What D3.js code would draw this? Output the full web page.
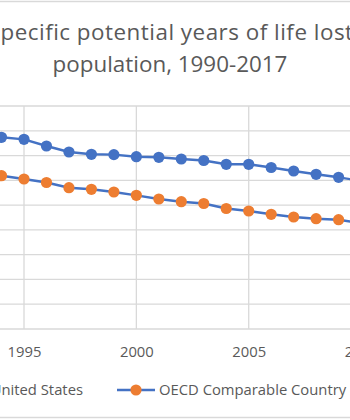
<!DOCTYPE html>
<html>
<head>
<meta charset="utf-8">
<script src="https://cdn.jsdelivr.net/npm/d3@7"></script>
<style>
  html, body { margin: 0; padding: 0; background: #fff; overflow: hidden; }
  svg { display: block; }
  text { font-family: "Open Sans", sans-serif; fill: #595959; }
</style>
</head>
<body>
<svg id="chart" width="350" height="420"></svg>
<script>
// ---- data (values in potential years of life lost per 100,000) ----
const years = [1994, 1995, 1996, 1997, 1998, 1999, 2000, 2001, 2002, 2003, 2004, 2005, 2006, 2007, 2008, 2009, 2010];
const usValues = [7736, 7655, 7385, 7143, 7050, 7038, 6953, 6929, 6860, 6800, 6647, 6647, 6517, 6376, 6243, 6122, 5977];
const oecdValues = [6186, 6053, 5912, 5702, 5638, 5529, 5395, 5246, 5137, 5065, 4863, 4763, 4629, 4520, 4451, 4411, 4274];
const xTickYears = [1990, 1995, 2000, 2005, 2010, 2015];
const yTickValues = [0, 1000, 2000, 3000, 4000, 5000, 6000, 7000, 8000, 9000];
const seriesNames = ["United States", "OECD Comparable Country"];
const titleLine1 = "Age-specific potential years of life lost per 100,000";
const titleLine1Hidden = "Age-s";
const titleLine2 = "population, 1990-2017";

const svg = d3.select("#chart");
const gridColor = "#D9D9D9";
const lineBlue = "#4472C4";
const markerOrange = "#ED7D31";

const x = d3.scaleLinear().domain([1990, 2017]).range([-88.35, 518.35]);
const y = d3.scaleLinear().domain([0, 9000]).range([329, 106]);

// chart border (top and bottom visible)
svg.append("rect")
  .attr("x", -100).attr("y", 1.5).attr("width", 560).attr("height", 416)
  .attr("fill", "none").attr("stroke", gridColor).attr("stroke-width", 1.5);

// horizontal gridlines
svg.append("g").selectAll("line").data(yTickValues).join("line")
  .attr("x1", x(1990)).attr("x2", x(2017))
  .attr("y1", d => y(d)).attr("y2", d => y(d))
  .attr("stroke", gridColor).attr("stroke-width", 1.3);

// vertical gridlines
svg.append("g").selectAll("line").data(xTickYears).join("line")
  .attr("x1", d => x(d)).attr("x2", d => x(d))
  .attr("y1", y(9000)).attr("y2", y(0))
  .attr("stroke", gridColor).attr("stroke-width", 1.3);

// x axis labels
const xAxis = d3.axisBottom(x).tickValues(xTickYears).tickFormat(d3.format("d")).tickSize(0).tickPadding(0);
const gx = svg.append("g").attr("transform", `translate(0,${y(0)})`).call(xAxis);
gx.select(".domain").remove();
gx.selectAll("text")
  .attr("y", 28).attr("dy", 0)
  .style("font-size", "14.8px").style("font-family", "'Open Sans', sans-serif").attr("fill", "#595959");

// lines
const line = d3.line().x((d, i) => x(years[i])).y(d => y(d));
[usValues, oecdValues].forEach(vals => {
  svg.append("path").datum(vals)
    .attr("d", line).attr("fill", "none")
    .attr("stroke", lineBlue).attr("stroke-width", 2.4).attr("stroke-linejoin", "round");
});

// markers
svg.append("g").selectAll("circle").data(usValues).join("circle")
  .attr("cx", (d, i) => x(years[i])).attr("cy", d => y(d)).attr("r", 5.6)
  .attr("fill", lineBlue);
svg.append("g").selectAll("circle").data(oecdValues).join("circle")
  .attr("cx", (d, i) => x(years[i])).attr("cy", d => y(d)).attr("r", 5.6)
  .attr("fill", markerOrange);

// title
const tmp = svg.append("text").style("font-size", "22.4px").style("letter-spacing", "0.5px").text(titleLine1Hidden);
const hiddenW = tmp.node().getComputedTextLength();
tmp.remove();
svg.append("text").attr("x", 0.5 - hiddenW).attr("y", 39.5)
  .style("font-size", "22.4px").style("letter-spacing", "0.5px").text(titleLine1);
svg.append("text").attr("x", 170).attr("y", 72).attr("text-anchor", "middle")
  .style("font-size", "22.4px").text(titleLine2);

// legend
const legY = 390;
const leg = svg.append("g");
// second item
const l2 = leg.append("g");
l2.append("line").attr("x1", 117).attr("x2", 155).attr("y1", legY).attr("y2", legY)
  .attr("stroke", lineBlue).attr("stroke-width", 2.4);
l2.append("circle").attr("cx", 136).attr("cy", legY).attr("r", 5.6).attr("fill", markerOrange);
l2.append("text").attr("x", 159).attr("y", legY + 5).style("font-size", "14.8px").text(seriesNames[1]);
// first item (ends at x=83)
const t1 = leg.append("text").attr("x", 83).attr("y", legY + 5).attr("text-anchor", "end")
  .style("font-size", "14.8px").text(seriesNames[0]);
const w1 = t1.node().getComputedTextLength();
const sx = 83 - w1 - 4;
leg.append("line").attr("x1", sx - 38).attr("x2", sx).attr("y1", legY).attr("y2", legY)
  .attr("stroke", lineBlue).attr("stroke-width", 2.4);
leg.append("circle").attr("cx", sx - 19).attr("cy", legY).attr("r", 5.6).attr("fill", lineBlue);
</script>
</body>
</html>
